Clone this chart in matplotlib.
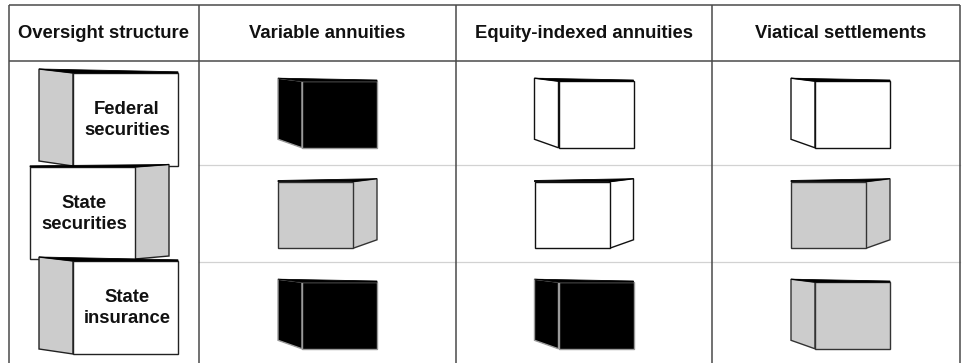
import matplotlib
matplotlib.use("Agg")
import matplotlib.pyplot as plt
from matplotlib.patches import Polygon

# ---------------- data ----------------
columns = ["Oversight structure", "Variable annuities",
           "Equity-indexed annuities", "Viatical settlements"]
structures = ["Federal\nsecurities", "State\nsecurities", "State\ninsurance"]
# oversight level per product for each structure: 2 = primary (black),
# 1 = secondary (gray), 0 = none (white)
variable_annuities = [2, 1, 2]
equity_indexed_annuities = [0, 0, 2]
viatical_settlements = [0, 1, 1]
products = [variable_annuities, equity_indexed_annuities, viatical_settlements]
side_of_structure = ["left", "right", "left"]

# ---------------- style / layout ----------------
W, H = 965, 363
FILL = {2: "#000000", 1: "#cccccc", 0: "#ffffff"}
EDGE = {2: "#9a9a9a", 1: "#333333", 0: "#111111"}
col_edges = [9, 199, 456, 712, 960]
col_centers = [104, 327.5, 584, 840.5]
top_y, header_y = 5, 61
row_edges = [61, 165, 262, 363]
FONT = ["Liberation Sans", "DejaVu Sans"]
FS = 13.3

fig = plt.figure(figsize=(W / 100, H / 100), dpi=100)
ax = fig.add_axes([0, 0, 1, 1])
ax.set_xlim(0, W)
ax.set_ylim(H, 0)
ax.axis("off")


def draw_box(ax, fx0, fy0, fw, fh, d, top_off, bot_off, side,
             front_fc, side_fc, ec, lw=1.0):
    if side == "left":
        side_pts = [(fx0 - d, fy0 - top_off), (fx0, fy0), (fx0, fy0 + fh),
                    (fx0 - d, fy0 + fh - bot_off)]
        top_pts = [(fx0 - d, fy0 - top_off), (fx0 + fw, fy0 - 1.2),
                   (fx0 + fw, fy0), (fx0, fy0)]
    else:
        side_pts = [(fx0 + fw, fy0), (fx0 + fw + d, fy0 - top_off),
                    (fx0 + fw + d, fy0 + fh - bot_off), (fx0 + fw, fy0 + fh)]
        top_pts = [(fx0 + fw + d, fy0 - top_off), (fx0, fy0 - 1.2),
                   (fx0, fy0), (fx0 + fw, fy0)]
    ax.add_patch(Polygon(side_pts, closed=True, fc=side_fc, ec=ec, lw=lw,
                         joinstyle="miter", zorder=3))
    ax.add_patch(Polygon([(fx0, fy0), (fx0 + fw, fy0), (fx0 + fw, fy0 + fh),
                          (fx0, fy0 + fh)], closed=True, fc=front_fc, ec=ec,
                         lw=lw, joinstyle="miter", zorder=3))
    ax.add_patch(Polygon(top_pts, closed=True, fc="#000000", ec="#000000",
                         lw=0.6, zorder=4))


# grid lines
grid_c = "#4a4a4a"
glw = 1.1
ax.plot([col_edges[0], col_edges[-1]], [top_y, top_y], color=grid_c, lw=glw,
        solid_capstyle="butt")
ax.plot([col_edges[0], col_edges[-1]], [header_y, header_y], color=grid_c,
        lw=glw, solid_capstyle="butt")
for x in col_edges:
    ax.plot([x, x], [top_y, H + 2], color=grid_c, lw=glw,
            solid_capstyle="butt")
for y in row_edges[1:-1]:
    ax.plot([col_edges[1], col_edges[-1]], [y, y], color="#d2d2d2", lw=0.9,
            zorder=1)

# header texts
for cx, name in zip(col_centers, columns):
    ax.text(cx, (top_y + header_y) / 2 + 1, name, ha="center", va="center",
            fontsize=FS, fontweight="bold", family=FONT, color="#111111")

# left column: stacked structure boxes
big_fw, big_fh, big_d = 105, 93, 34
stack_shift = {"left": 4.5, "right": -4.5}
for i, (label, side) in enumerate(zip(structures, side_of_structure)):
    fy0 = 73 + i * 94
    total_w = big_fw + big_d
    bx0 = col_centers[0] + stack_shift[side] - total_w / 2
    fx0 = bx0 + big_d if side == "left" else bx0
    draw_box(ax, fx0, fy0, big_fw, big_fh - (1 if i == 1 else 0), big_d,
             4 if side == "left" else 2.5, 5 if side == "left" else 3, side,
             "#ffffff", "#cccccc", "#222222", lw=1.0)
    ax.text(fx0 + big_fw / 2 + 1.5, fy0 + big_fh / 2 + 0.5, label,
            ha="center", va="center", fontsize=FS, fontweight="bold",
            family=FONT, linespacing=1.3, color="#111111", zorder=5)

# product cells
sm_fw, sm_fh, sm_d, sm_top, sm_bot = 75, 66.6, 24, 3, 8.5
for j, levels in enumerate(products):
    cx = col_centers[j + 1]
    for i, lvl in enumerate(levels):
        side = side_of_structure[i]
        cy = (row_edges[i] + row_edges[i + 1]) / 2 + (1.5 if i == 2 else 0)
        bx0 = cx - (sm_fw + sm_d) / 2
        fx0 = bx0 + sm_d if side == "left" else bx0
        fy0 = cy - (sm_fh + sm_top) / 2 + sm_top
        draw_box(ax, fx0, fy0, sm_fw, sm_fh, sm_d, sm_top, sm_bot, side,
                 FILL[lvl], FILL[lvl], EDGE[lvl], lw=1.0)

fig.savefig("out.png", dpi=100, facecolor="white")
